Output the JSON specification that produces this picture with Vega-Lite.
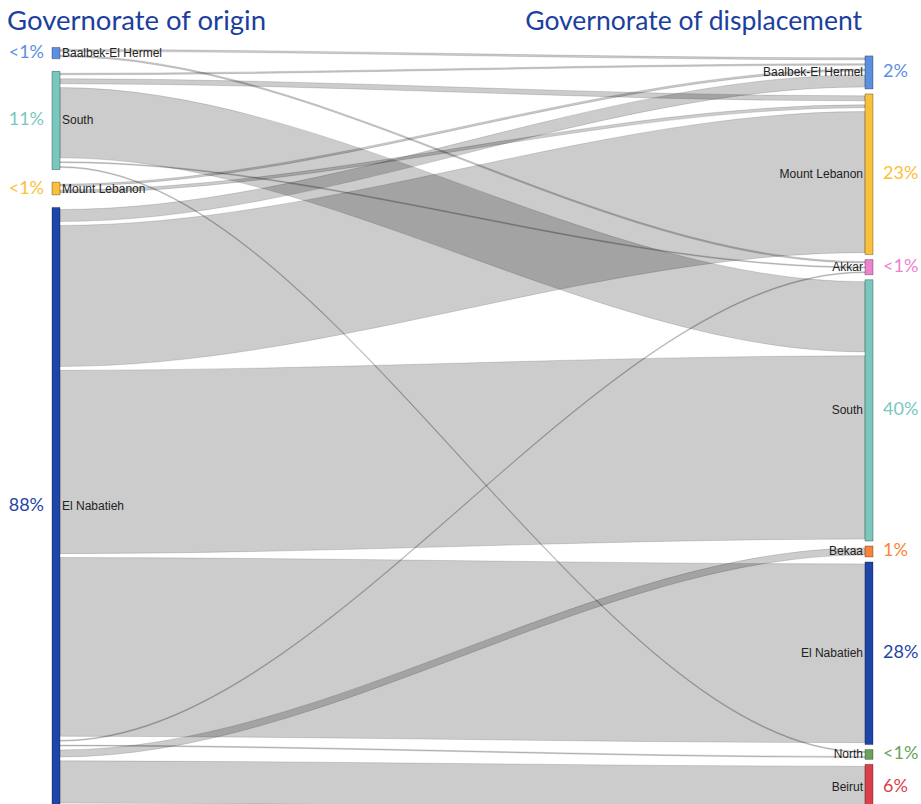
{
  "$schema": "https://vega.github.io/schema/vega-lite/v6.json",
  "width": 921,
  "height": 804,
  "autosize": "none",
  "padding": 0,
  "background": "#ffffff",
  "config": {"view": {"stroke": null}},
  "datasets": {
    "links": [
      {"id": 1, "s": "Baalbek-El Hermel", "t": "Baalbek-El Hermel", "v": 0.3, "sOrd": 0, "so": 0, "tOrd": 0, "to": 0},
      {"id": 2, "s": "Baalbek-El Hermel", "t": "Akkar", "v": 0.23, "sOrd": 0, "so": 1, "tOrd": 2, "to": 0},
      {"id": 3, "s": "South", "t": "Baalbek-El Hermel", "v": 0.23, "sOrd": 1, "so": 0, "tOrd": 0, "to": 1},
      {"id": 4, "s": "South", "t": "Mount Lebanon", "v": 0.77, "sOrd": 1, "so": 1, "tOrd": 1, "to": 0},
      {"id": 5, "s": "South", "t": "South", "v": 10.8, "sOrd": 1, "so": 2, "tOrd": 3, "to": 0},
      {"id": 6, "s": "South", "t": "Akkar", "v": 0.15, "sOrd": 1, "so": 3, "tOrd": 2, "to": 1},
      {"id": 7, "s": "South", "t": "North", "v": 0.15, "sOrd": 1, "so": 4, "tOrd": 6, "to": 0},
      {"id": 8, "s": "Mount Lebanon", "t": "Baalbek-El Hermel", "v": 0.3, "sOrd": 2, "so": 0, "tOrd": 0, "to": 2},
      {"id": 9, "s": "Mount Lebanon", "t": "Mount Lebanon", "v": 0.45, "sOrd": 2, "so": 1, "tOrd": 1, "to": 1},
      {"id": 10, "s": "El Nabatieh", "t": "Baalbek-El Hermel", "v": 1.85, "sOrd": 3, "so": 0, "tOrd": 0, "to": 3},
      {"id": 11, "s": "El Nabatieh", "t": "Mount Lebanon", "v": 21.7, "sOrd": 3, "so": 1, "tOrd": 1, "to": 2},
      {"id": 12, "s": "El Nabatieh", "t": "South", "v": 28.2, "sOrd": 3, "so": 2, "tOrd": 3, "to": 1},
      {"id": 13, "s": "El Nabatieh", "t": "El Nabatieh", "v": 27.5, "sOrd": 3, "so": 3, "tOrd": 5, "to": 0},
      {"id": 14, "s": "El Nabatieh", "t": "Akkar", "v": 0.15, "sOrd": 3, "so": 4, "tOrd": 2, "to": 2},
      {"id": 15, "s": "El Nabatieh", "t": "North", "v": 0.15, "sOrd": 3, "so": 5, "tOrd": 6, "to": 1},
      {"id": 16, "s": "El Nabatieh", "t": "Bekaa", "v": 1.08, "sOrd": 3, "so": 6, "tOrd": 4, "to": 0},
      {"id": 17, "s": "El Nabatieh", "t": "Beirut", "v": 6.5, "sOrd": 3, "so": 7, "tOrd": 7, "to": 0}
    ],
    "nodes": [
      {"k": "o|Baalbek-El Hermel", "pct": "<1%"},
      {"k": "o|South", "pct": "11%"},
      {"k": "o|Mount Lebanon", "pct": "<1%"},
      {"k": "o|El Nabatieh", "pct": "88%"},
      {"k": "d|Baalbek-El Hermel", "pct": "2%"},
      {"k": "d|Mount Lebanon", "pct": "23%"},
      {"k": "d|Akkar", "pct": "<1%"},
      {"k": "d|South", "pct": "40%"},
      {"k": "d|Bekaa", "pct": "1%"},
      {"k": "d|El Nabatieh", "pct": "28%"},
      {"k": "d|North", "pct": "<1%"},
      {"k": "d|Beirut", "pct": "6%"}
    ],
    "titles": [
      {"side": "o", "label": "Governorate of origin"},
      {"side": "d", "label": "Governorate of displacement"}
    ]
  },
  "data": {"name": "links"},
  "transform": [
    {"calculate": "datum.v + 0.6", "as": "w"},
    {"window": [{"op": "sum", "field": "w", "as": "sCum"}], "sort": [{"field": "sOrd"}, {"field": "so"}], "frame": [null, 0]},
    {"window": [{"op": "sum", "field": "w", "as": "tCum"}], "sort": [{"field": "tOrd"}, {"field": "to"}], "frame": [null, 0]},
    {"calculate": "7.3 + 1.95 * datum.sOrd + datum.sCum - datum.w", "as": "sTop"},
    {"calculate": "8.6 + 0.77 * datum.tOrd + datum.tCum - datum.w", "as": "tTop"}
  ],
  "encoding": {
    "x": {"type": "quantitative", "scale": {"domain": [0, 1], "range": [60, 865], "nice": false, "zero": false}, "axis": null},
    "y": {"type": "quantitative", "scale": {"domain": [0, 123.7], "reverse": true, "nice": false, "zero": false}, "axis": null}
  },
  "layer": [
    {
      "transform": [
        {"calculate": "[0, 0.001, 0.999, 1]", "as": "tt"},
        {"flatten": ["tt"]},
        {"calculate": "(datum.tt < 0.5 ? datum.sTop : datum.tTop) + 0.3", "as": "ly0"},
        {"calculate": "datum.ly0 + datum.v", "as": "ly1"}
      ],
      "mark": {"type": "area", "interpolate": "monotone", "fill": "#000000", "fillOpacity": 0.2, "stroke": "#000000", "strokeOpacity": 0.14, "strokeWidth": 1},
      "encoding": {
        "x": {"field": "tt", "type": "quantitative"},
        "y": {"field": "ly0", "type": "quantitative"},
        "y2": {"field": "ly1"},
        "detail": {"field": "id", "type": "nominal"}
      }
    },
    {
      "transform": [
        {"aggregate": [{"op": "min", "field": "sTop", "as": "y0"}, {"op": "sum", "field": "w", "as": "tot"}], "groupby": ["s"]},
        {"calculate": "datum.y0 + datum.tot", "as": "y1"},
        {"calculate": "(datum.y0 + datum.y1) / 2", "as": "yc"},
        {"calculate": "datum.s", "as": "node"},
        {"calculate": "'o|' + datum.s", "as": "k"},
        {"lookup": "k", "from": {"data": {"name": "nodes"}, "key": "k", "fields": ["pct"]}}
      ],
      "layer": [
        {
          "mark": {"type": "rect", "stroke": "#000000", "strokeOpacity": 0.3, "strokeWidth": 1},
          "encoding": {
            "x": {"datum": -0.00994, "type": "quantitative"},
            "x2": {"datum": 0},
            "y": {"field": "y0", "type": "quantitative"},
            "y2": {"field": "y1"},
            "color": {"field": "node", "type": "nominal", "legend": null,
              "scale": {"domain": ["Baalbek-El Hermel", "South", "Mount Lebanon", "El Nabatieh", "Akkar", "Bekaa", "North", "Beirut"],
                        "range": ["#5b8fe0", "#79c8be", "#fbc03a", "#1e45a8", "#ee82d0", "#fa8538", "#6da25b", "#da3f4a"]}}
          }
        },
        {
          "mark": {"type": "text", "align": "left", "baseline": "middle", "dx": 2, "font": "Liberation Sans, Arial, sans-serif", "fontSize": 12, "fill": "#222222"},
          "encoding": {
            "x": {"datum": 0, "type": "quantitative"},
            "y": {"field": "yc", "type": "quantitative"},
            "text": {"field": "s"}
          }
        },
        {
          "mark": {"type": "text", "align": "right", "baseline": "middle", "dx": -16, "font": "Lato, sans-serif", "fontSize": 18},
          "encoding": {
            "x": {"datum": 0, "type": "quantitative"},
            "y": {"field": "yc", "type": "quantitative"},
            "text": {"field": "pct"},
            "color": {"field": "node", "type": "nominal", "legend": null}
          }
        }
      ]
    },
    {
      "transform": [
        {"aggregate": [{"op": "min", "field": "tTop", "as": "y0"}, {"op": "sum", "field": "w", "as": "tot"}], "groupby": ["t"]},
        {"calculate": "datum.y0 + datum.tot", "as": "y1"},
        {"calculate": "(datum.y0 + datum.y1) / 2", "as": "yc"},
        {"calculate": "datum.t", "as": "node"},
        {"calculate": "'d|' + datum.t", "as": "k"},
        {"lookup": "k", "from": {"data": {"name": "nodes"}, "key": "k", "fields": ["pct"]}}
      ],
      "layer": [
        {
          "mark": {"type": "rect", "stroke": "#000000", "strokeOpacity": 0.3, "strokeWidth": 1},
          "encoding": {
            "x": {"datum": 1, "type": "quantitative"},
            "x2": {"datum": 1.00994},
            "y": {"field": "y0", "type": "quantitative"},
            "y2": {"field": "y1"},
            "color": {"field": "node", "type": "nominal", "legend": null}
          }
        },
        {
          "mark": {"type": "text", "align": "right", "baseline": "middle", "dx": -2, "font": "Liberation Sans, Arial, sans-serif", "fontSize": 12, "fill": "#222222"},
          "encoding": {
            "x": {"datum": 1, "type": "quantitative"},
            "y": {"field": "yc", "type": "quantitative"},
            "text": {"field": "t"}
          }
        },
        {
          "mark": {"type": "text", "align": "left", "baseline": "middle", "dx": 18, "font": "Lato, sans-serif", "fontSize": 18},
          "encoding": {
            "x": {"datum": 1, "type": "quantitative"},
            "y": {"field": "yc", "type": "quantitative"},
            "text": {"field": "pct"},
            "color": {"field": "node", "type": "nominal", "legend": null}
          }
        }
      ]
    },
    {
      "data": {"name": "titles"},
      "transform": [{"filter": "datum.side == 'o'"}],
      "mark": {"type": "text", "align": "left", "baseline": "middle", "font": "Lato, sans-serif", "fontSize": 27.5, "fill": "#1c3f9e"},
      "encoding": {
        "x": {"datum": -0.0658, "type": "quantitative"},
        "y": {"datum": 3.4, "type": "quantitative"},
        "text": {"field": "label"}
      }
    },
    {
      "data": {"name": "titles"},
      "transform": [{"filter": "datum.side == 'd'"}],
      "mark": {"type": "text", "align": "right", "baseline": "middle", "font": "Lato, sans-serif", "fontSize": 26.5, "fill": "#1c3f9e"},
      "encoding": {
        "x": {"datum": 0.9963, "type": "quantitative"},
        "y": {"datum": 3.4, "type": "quantitative"},
        "text": {"field": "label"}
      }
    }
  ]
}
